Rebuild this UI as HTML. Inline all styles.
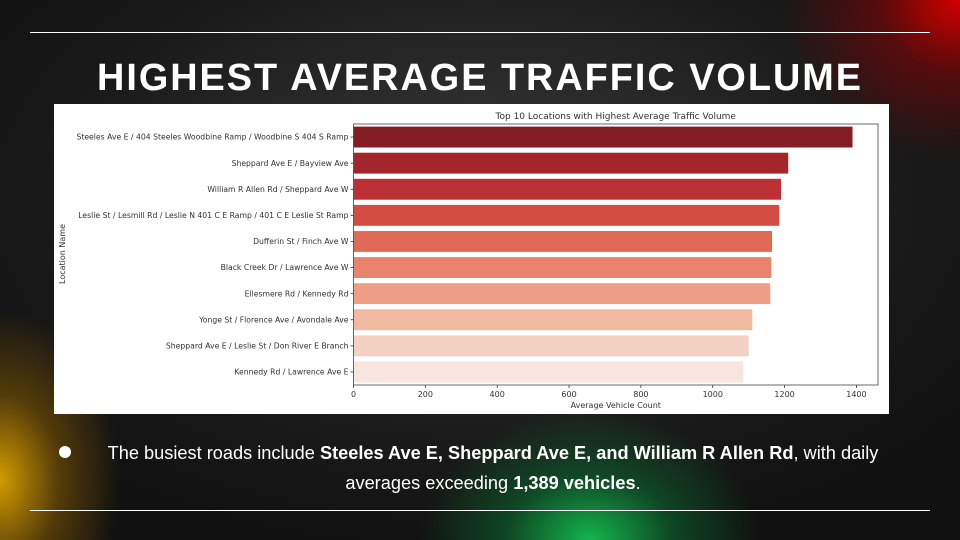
<!DOCTYPE html>
<html><head><meta charset="utf-8">
<style>
html,body{margin:0;padding:0;}
body{width:960px;height:540px;overflow:hidden;position:relative;font-family:"Liberation Sans",sans-serif;
background:
radial-gradient(ellipse 180px 160px at 960px 0px, rgba(220,0,0,0.95), rgba(150,0,0,0.5) 45%, rgba(0,0,0,0) 100%),
radial-gradient(ellipse 170px 130px at 590px 540px, rgba(20,190,80,0.95), rgba(10,120,50,0.5) 50%, rgba(0,0,0,0) 100%),
radial-gradient(ellipse 120px 170px at 0px 480px, rgba(230,170,0,0.9), rgba(150,100,0,0.5) 50%, rgba(0,0,0,0) 100%),
radial-gradient(ellipse 600px 350px at 480px 200px, #3a3a3a, #1a1a1a 70%, #111 100%);}
.hr{position:absolute;left:30px;width:900px;height:1px;background:#fff;}
svg{position:absolute;left:0;top:0;}
.bullet{position:absolute;left:33px;top:438px;width:920px;color:#fff;font-size:18.2px;line-height:30px;text-align:center;}
.dot{position:absolute;left:59px;top:446px;width:12px;height:12px;border-radius:50%;background:#fff;}
</style></head>
<body>
<div class="hr" style="top:32px"></div>
<div class="hr" style="top:510px"></div>
<svg width="960" height="100">
<text x="97" y="90" textLength="766" lengthAdjust="spacingAndGlyphs" font-family="Liberation Sans, sans-serif" font-weight="bold" font-size="38" fill="#fff" letter-spacing="2">HIGHEST AVERAGE TRAFFIC VOLUME</text>
</svg>
<svg id="chart" width="960" height="540">
<rect x="54" y="104" width="835" height="310" fill="#fff"/>
</svg>
<div class="dot"></div>
<div class="bullet">The busiest roads include <b>Steeles Ave E, Sheppard Ave E, and William R Allen Rd</b>, with daily<br>averages exceeding <b>1,389 vehicles</b>.</div>
<script>
const categories=["Steeles Ave E / 404 Steeles Woodbine Ramp / Woodbine S 404 S Ramp","Sheppard Ave E / Bayview Ave","William R Allen Rd / Sheppard Ave W","Leslie St / Lesmill Rd / Leslie N 401 C E Ramp / 401 C E Leslie St Ramp","Dufferin St / Finch Ave W","Black Creek Dr / Lawrence Ave W","Ellesmere Rd / Kennedy Rd","Yonge St / Florence Ave / Avondale Ave","Sheppard Ave E / Leslie St / Don River E Branch","Kennedy Rd / Lawrence Ave E"];
const values=[1389,1210,1190,1185,1165,1163,1160,1110,1100,1085];
const colors=["#841c24","#a3262c","#bb3034","#d24c42","#e06a56","#e8846b","#ed9e84","#f2b9a2","#f4d1c2","#f8e5de"];
const xTicks=[0,200,400,600,800,1000,1200,1400];
const NS="http://www.w3.org/2000/svg";
const svg=document.getElementById('chart');
const L=353.5,R=878,T=124,B=385,xMax=1460;
const xs=v=>L+v/xMax*(R-L);
const band=(B-T)/categories.length;
const ys=i=>T+band*i;
function mk(t,a){const e=document.createElementNS(NS,t);for(const k in a)e.setAttribute(k,a[k]);svg.appendChild(e);return e;}
categories.forEach((c,i)=>{
 const y=ys(i)+band*0.1;
 const r=mk('rect',{x:L,y:y,width:xs(values[i])-L,height:band*0.8,fill:colors[i]});
 
 
 const cy=ys(i)+band/2;
 mk('line',{x1:L-3,x2:L,y1:cy,y2:cy,stroke:'#333','stroke-width':0.8});
 const t=mk('text',{x:L-5,y:cy+2.6,'text-anchor':'end','font-size':7.7,fill:'#333','font-family':'DejaVu Sans, sans-serif'});
 t.textContent=c;
 
 
});
xTicks.forEach(v=>{
 const x=xs(v);
 mk('line',{x1:x,x2:x,y1:B,y2:B+3,stroke:'#333','stroke-width':0.8});
 const t=mk('text',{x:x,y:B+12,'text-anchor':'middle','font-size':8,fill:'#333','font-family':'DejaVu Sans, sans-serif'});
 t.textContent=v;
 
 
});
const f=mk('rect',{x:L,y:T,width:R-L,height:B-T,fill:'none',stroke:'#444','stroke-width':0.8});


let t=mk('text',{x:(L+R)/2,y:119,'text-anchor':'middle','font-size':9,fill:'#333','font-family':'DejaVu Sans, sans-serif'});
t.textContent='Top 10 Locations with Highest Average Traffic Volume';


t=mk('text',{x:(L+R)/2,y:408,'text-anchor':'middle','font-size':8,fill:'#333','font-family':'DejaVu Sans, sans-serif'});
t.textContent='Average Vehicle Count';


t=mk('text',{x:0,y:0,'text-anchor':'middle','font-size':8,fill:'#333','font-family':'DejaVu Sans, sans-serif',transform:'translate(65,254) rotate(-90)'});
t.textContent='Location Name';


</script>
</body></html>
